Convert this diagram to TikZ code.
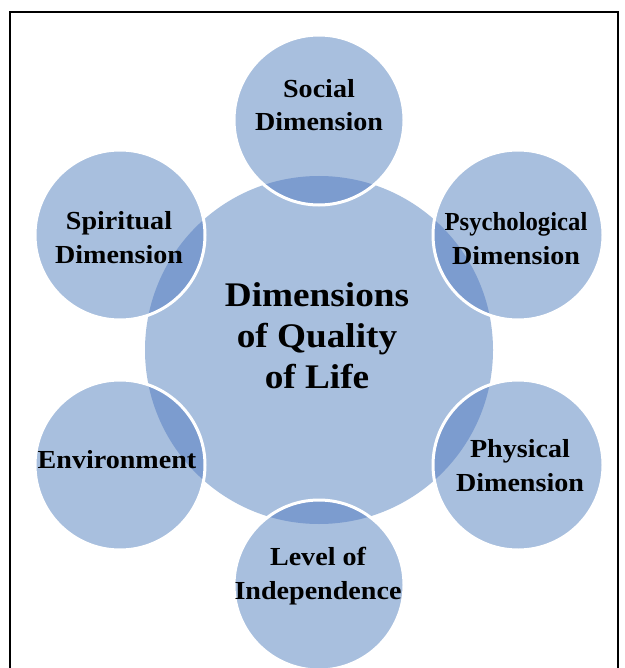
\documentclass[tikz,border=0pt]{standalone}
\usepackage{graphicx}
\usepackage{fontspec}
\setmainfont{Liberation Serif}[FakeStretch=1.08]
\definecolor{qlfill}{RGB}{168,191,222}
\definecolor{qldark}{RGB}{124,156,207}
\tikzset{
  hub/.style={circle, fill=qlfill, minimum size=348pt, inner sep=0pt, draw=none},
  sat/.style={circle, fill=qlfill, minimum size=170pt, inner sep=0pt, draw=none},
  rim/.style={draw=white, line width=3pt},
  sattext/.style={align=center, anchor=base, inner sep=0pt, font=\fontsize{26}{33.5}\selectfont\bfseries},
  hubtext/.style={align=center, anchor=base, inner sep=0pt, font=\fontsize{34.5}{41}\selectfont\bfseries},
  frame/.style={line width=2pt, draw=black}
}
\begin{document}
\begin{tikzpicture}[x=1pt,y=-1pt]
\useasboundingbox (0,0) rectangle (624,668);
\fill[white] (0,0) rectangle (624,668);
\draw[frame] (10,668) -- (10,12) -- (618,12) -- (618,668);
\node[hub] (hub) at (319,350) {};
\foreach \n/\x/\y in {soc/319/120, psy/518/235, phy/518/465, lev/319/585, env/120/465, spi/120/235}{
  \node[sat] (\n) at (\x,\y) {};
  \begin{scope}
    \clip (hub.center) circle (174pt);
    \fill[qldark] (\n.center) circle (85pt);
  \end{scope}
  \draw[rim] (\n.center) circle (85pt);
}
\node[hubtext] (hubt) at (317,388) {Dimensions\\of Quality\\of Life};
\node[sattext] (soct) at (319,131) {Social\\Dimension};
\node[sattext] (psyt) at (516,264) {\scalebox{0.88}[1]{Psychological}\\Dimension};
\node[sattext] (phyt) at (520,491) {Physical\\Dimension};
\node[sattext] (levt) at (318,599) {Level of\\Independence};
\node[sattext] (envt) at (117,468) {Environment};
\node[sattext] (spit) at (119,263) {Spiritual\\Dimension};
\end{tikzpicture}
\end{document}
